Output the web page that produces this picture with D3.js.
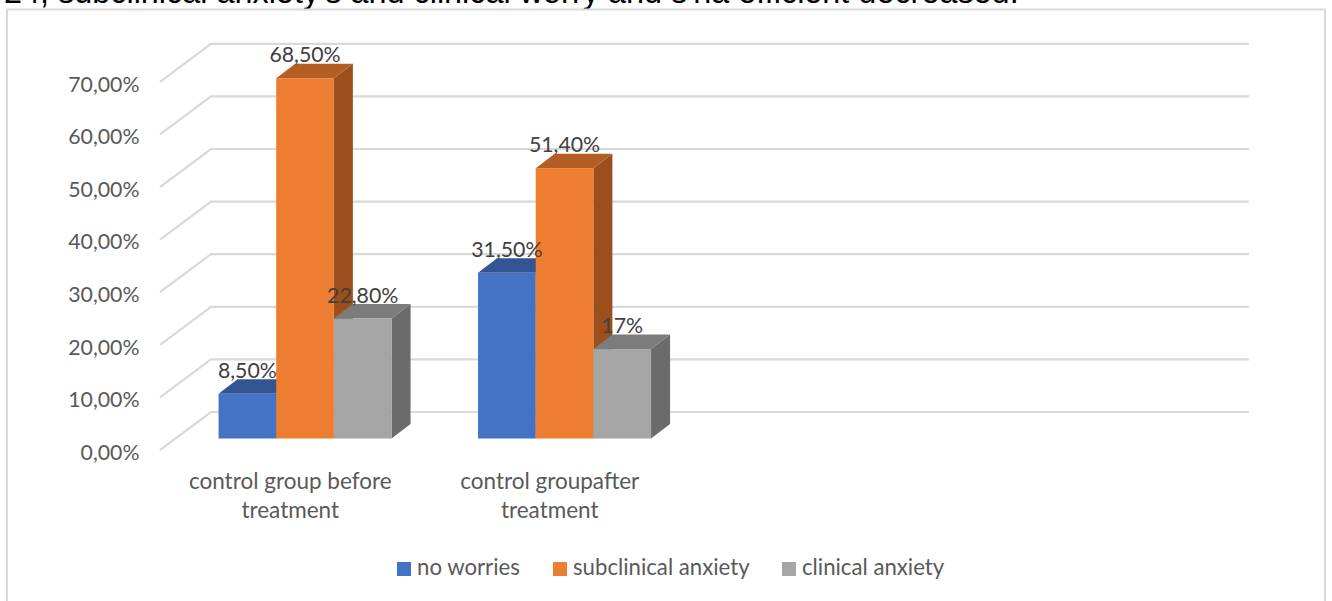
<!DOCTYPE html>
<html><head><meta charset="utf-8">
<script src="https://cdn.jsdelivr.net/npm/d3@7/dist/d3.min.js"></script>
<style>html,body{margin:0;padding:0;background:#fff;overflow:hidden}svg{display:block}text{font-family:Lato,"Open Sans",sans-serif}</style>
</head><body><svg id="c" width="1332" height="601"></svg>
<script>
const categories = ["control group before|treatment", "control groupafter|treatment"];
const seriesNames = ["no worries", "subclinical anxiety", "clinical anxiety"];
const noWorries = [8.5, 31.5];
const subclinicalAnxiety = [68.5, 51.4];
const clinicalAnxiety = [22.8, 17];
const dataLabelsNoWorries = ["8,50%", "31,50%"];
const dataLabelsSubclinical = ["68,50%", "51,40%"];
const dataLabelsClinical = ["22,80%", "17%"];
const yTicks = [0, 10, 20, 30, 40, 50, 60, 70];
const colors = [
  {front:"#4472C4", top:"#335593", side:"#2f5597"},
  {front:"#ED7D31", top:"#B35E25", side:"#9A4F1C"},
  {front:"#A5A5A5", top:"#7C7C7C", side:"#6B6B6B"}
];
const titleText = "24, subclinical anxiety's and clinical worry and s'na efficient decreased.";

const series = [noWorries, subclinicalAnxiety, clinicalAnxiety];
const labels = [dataLabelsNoWorries, dataLabelsSubclinical, dataLabelsClinical];
const svg = d3.select("#c");

// Layout
const floorX = 51, floorY = 38;
const front = {l:160, r:1198, base:450};
const barShiftX = 15.3, barShiftY = 11.5;
const barDX = 19, barDY = 14.5;

const y = d3.scaleLinear().domain([0,70]).range([front.base, front.base - 368.2]);
const slot = d3.scaleBand().domain([0,1,2,3]).range([front.l, front.r]);
const inner = d3.scaleBand().domain([0,1,2]).range([-86.5, 86.5]);

// Title (clipped by the top of the picture, as in the reference)
svg.append("text").attr("x",4).attr("y",3).attr("fill","#000")
  .style("font-family","'Liberation Sans',Arial,sans-serif").attr("font-size",32.4).text(titleText);

// Frame
svg.append("rect").attr("x",7).attr("y",9.5).attr("width",1318).attr("height",620)
  .attr("fill","none").attr("stroke","#d9d9d9").attr("stroke-width",2);

// Gridlines
const grid = d3.line();
svg.append("g").selectAll("path").data(yTicks).join("path")
  .attr("d", v => grid([[front.l,y(v)],[front.l+floorX,y(v)-floorY],[front.r+floorX,y(v)-floorY]]))
  .attr("fill","none").attr("stroke","#d9d9d9").attr("stroke-width",2.2);

// Y axis
const yAxis = svg.append("g").attr("transform","translate(139.5,2.5)")
  .call(d3.axisLeft(y).tickValues(yTicks).tickSize(0).tickPadding(0)
    .tickFormat(v => d3.format(".2f")(v).replace(".",",") + "%"));
yAxis.select(".domain").remove();
yAxis.selectAll("text").attr("fill","#595959").attr("font-size",21.3).style("font-family","Lato");

// Category labels
const cats = svg.append("g");
categories.forEach((c,i) => {
  const cx = slot(i) + slot.bandwidth()/2 + 0.5;
  c.split("|").forEach((ln,j) => cats.append("text").attr("x",cx).attr("y",489+j*29)
    .attr("text-anchor","middle").attr("fill","#595959").attr("font-size",22.5).text(ln));
});

// 3D bars
const base = v => y(v) - barShiftY;
const poly = pts => pts.map(p => p.join(",")).join(" ");
const barsG = svg.append("g");
categories.forEach((c,i) => {
  const cx = slot(i) + slot.bandwidth()/2 + barShiftX;
  series.forEach((s,k) => {
    const x0 = cx + inner(k), w = inner.bandwidth();
    const yt = base(s[i]), yb = base(0);
    const g = barsG.append("g");
    g.append("polygon").attr("points", poly([[x0+w,yt],[x0+w+barDX,yt-barDY],[x0+w+barDX,yb-barDY],[x0+w,yb]])).attr("fill",colors[k].side);
    g.append("polygon").attr("points", poly([[x0,yt],[x0+barDX,yt-barDY],[x0+w+barDX,yt-barDY],[x0+w,yt]])).attr("fill",colors[k].top);
    g.append("rect").attr("x",x0).attr("y",yt).attr("width",w).attr("height",yb-yt).attr("fill",colors[k].front);
  });
});

// Data labels
const dl = svg.append("g");
categories.forEach((c,i) => {
  const cx = slot(i) + slot.bandwidth()/2 + barShiftX;
  series.forEach((s,k) => {
    dl.append("text").attr("x",cx+inner(k)+inner.bandwidth()/2)
      .attr("y",base(s[i])-barDY-1.5).attr("text-anchor","middle")
      .attr("fill","#404040").attr("font-size",21.3).text(labels[k][i]);
  });
});

// Legend
const legendX = [397, 553, 782];
const lg = svg.append("g");
seriesNames.forEach((n,k) => {
  lg.append("rect").attr("x",legendX[k]).attr("y",562).attr("width",14).attr("height",14).attr("fill",colors[k].front);
  lg.append("text").attr("x",legendX[k]+20).attr("y",575).attr("fill","#595959").attr("font-size",22.2).text(n);
});
</script></body></html>
